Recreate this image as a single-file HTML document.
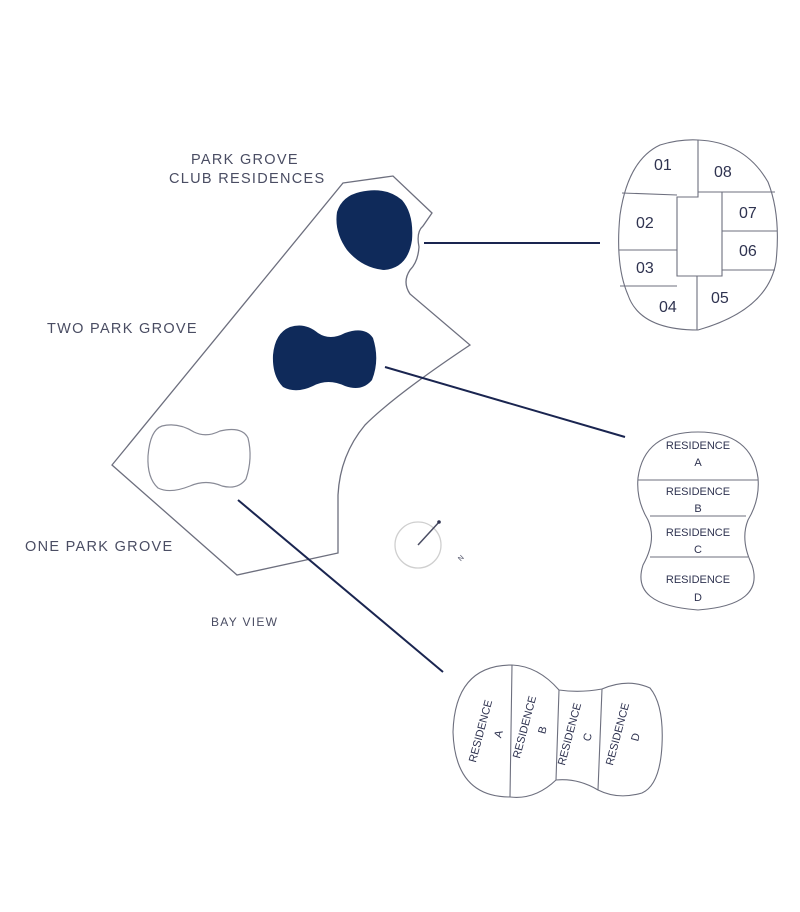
<!DOCTYPE html>
<html><head><meta charset="utf-8"><style>
html,body{margin:0;padding:0;background:#fff;width:800px;height:912px;overflow:hidden}
svg{display:block}
text{font-family:"Liberation Sans",sans-serif;fill:#4a4d63}
.lbl{font-size:14.5px;letter-spacing:1.3px}
.num{font-size:16px;fill:#2f3350}
.res{font-size:11px;fill:#2f3350;text-anchor:middle}
</style></head><body>
<svg width="800" height="912" viewBox="0 0 800 912" xmlns="http://www.w3.org/2000/svg">
<text class="lbl" x="191" y="164">PARK GROVE</text>
<text class="lbl" x="169" y="183">CLUB RESIDENCES</text>
<text class="lbl" x="47" y="333">TWO PARK GROVE</text>
<text class="lbl" x="25" y="551">ONE PARK GROVE</text>
<text class="lbl" x="211" y="626" style="font-size:12px">BAY VIEW</text>

<path d="M343,183 L393,176 L432,213 L423,226 Q416,232 419,247 Q418,262 410,270 Q402,282 410,294 L470,345 Q395,395 365,425 Q340,455 338,495 L338,553 L237,575 L112,465 Z" fill="none" stroke="#6d6f7e" stroke-width="1.3"/>

<path d="M360,192 Q385,186 402,200 Q414,214 412,240 Q408,268 384,270 Q362,268 347,250 Q334,232 337,212 Q342,196 360,192 Z" fill="#0f2a5a"/>
<path d="M290,327 Q305,322 318,333 Q330,341 345,333 Q365,326 373,338 Q380,360 372,380 Q362,392 345,386 Q328,378 313,386 Q296,394 283,387 Q272,376 273,355 Q275,333 290,327 Z" fill="#0f2a5a"/>
<path d="M162,426 Q178,422 194,432 Q206,438 220,431 Q242,426 248,438 Q253,458 246,479 Q238,490 222,486 Q206,479 190,486 Q170,494 158,488 Q147,478 148,456 Q150,430 162,426 Z" fill="none" stroke="#888a96" stroke-width="1.2"/>

<line x1="424" y1="243" x2="600" y2="243" stroke="#1a2550" stroke-width="2"/>
<line x1="385" y1="367" x2="625" y2="437" stroke="#1a2550" stroke-width="2"/>
<line x1="238" y1="500" x2="443" y2="672" stroke="#1a2550" stroke-width="2"/>

<circle cx="418" cy="545" r="23" fill="none" stroke="#cfcfcf" stroke-width="1.3"/>
<line x1="418" y1="545" x2="440" y2="521" stroke="#4a4d63" stroke-width="1.5"/>
<circle cx="439" cy="522" r="1.8" fill="#2f3350"/>
<text x="458" y="561" style="font-size:7px" transform="rotate(-45 460 558)">N</text>

<g fill="none" stroke="#6d6f7e" stroke-width="1.1">
<path d="M698,140 Q745,142 768,182 Q781,215 776,262 Q768,310 698,330 Q640,330 628,295 Q615,265 620,215 Q628,160 660,145 Q680,139 698,140 Z"/>
<path d="M698,140 L698,197 L677,197 L677,276 L697,276 L697,330"/>
<path d="M622,193 L677,195"/>
<path d="M698,192 L722,192 L722,276 L697,276"/>
<path d="M722,192 L775,192 M722,231 L777,231 M722,270 L775,270"/>
<path d="M619,250 L677,250 M620,286 L677,286"/>
</g>
<text class="num" x="654" y="170">01</text>
<text class="num" x="714" y="177">08</text>
<text class="num" x="636" y="228">02</text>
<text class="num" x="739" y="218">07</text>
<text class="num" x="636" y="273">03</text>
<text class="num" x="739" y="256">06</text>
<text class="num" x="659" y="312">04</text>
<text class="num" x="711" y="303">05</text>

<g fill="none" stroke="#6d6f7e" stroke-width="1.1">
<path d="M698,432 Q752,432 758,478 Q760,500 748,520 Q740,540 752,565 Q765,605 698,610 Q630,605 643,565 Q657,540 648,520 Q636,500 638,478 Q644,432 698,432 Z"/>
<path d="M638,480 L758,480 M650,516 L746,516 M650,557 L748,557"/>
</g>
<text class="res" x="698" y="449">RESIDENCE</text><text class="res" x="698" y="466">A</text>
<text class="res" x="698" y="495">RESIDENCE</text><text class="res" x="698" y="512">B</text>
<text class="res" x="698" y="536">RESIDENCE</text><text class="res" x="698" y="553">C</text>
<text class="res" x="698" y="583">RESIDENCE</text><text class="res" x="698" y="601">D</text>

<g fill="none" stroke="#6d6f7e" stroke-width="1.1">
<path d="M512,665 Q538,666 559,690 Q580,693 602,689 Q628,678 650,688 Q664,705 662,745 Q660,785 642,793 Q618,800 598,790 Q578,778 556,780 Q535,800 510,797 Q455,797 453,732 Q455,665 512,665 Z"/>
<path d="M512,665 L510,797 M559,690 L556,780 M602,689 L598,790"/>
</g>
<text class="res" transform="translate(484,732) rotate(-75)">RESIDENCE</text>
<text class="res" transform="translate(502,735) rotate(-75)">A</text>
<text class="res" transform="translate(528,728) rotate(-75)">RESIDENCE</text>
<text class="res" transform="translate(546,731) rotate(-75)">B</text>
<text class="res" transform="translate(573,735) rotate(-75)">RESIDENCE</text>
<text class="res" transform="translate(591,738) rotate(-75)">C</text>
<text class="res" transform="translate(621,735) rotate(-75)">RESIDENCE</text>
<text class="res" transform="translate(639,738) rotate(-75)">D</text>
</svg>
</body></html>
